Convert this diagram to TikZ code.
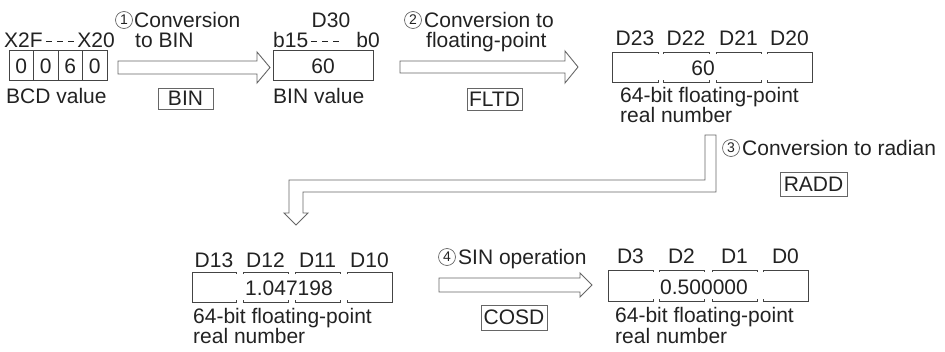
\documentclass[tikz,border=0pt]{standalone}
\usepackage{fontspec}
\setmainfont{Liberation Sans}
\usetikzlibrary{calc}
\definecolor{ink}{HTML}{222222}
\definecolor{edge}{HTML}{444444}
\definecolor{soft}{HTML}{666666}
\begin{document}
\begin{tikzpicture}[x=1pt,y=-1pt,
  txt/.style={font=\fontsize{21}{24}\selectfont, inner sep=0pt, text=ink},
  bw/.style={txt, anchor=base west},
  be/.style={txt, anchor=base east},
  bc/.style={txt, anchor=base},
  circnum/.style={circle, draw=soft, line width=0.7pt, minimum size=17pt, inner sep=0pt, text=ink, font=\fontsize{14}{14}\selectfont},
  opbox/.style={draw=soft, line width=0.8pt, inner sep=0pt, txt},
  reg/.style={draw=edge, line width=1pt},
  hollow/.style={draw=soft, fill=white, line width=0.9pt, line join=miter},
  dashln/.style={draw=ink, line width=0.9pt}
]
\useasboundingbox (0,0) rectangle (945,351);

% ---------- BCD value ----------
\node[bw] (x2f) at (4,47) {X2F};
\node[be] (x20) at (115,47) {X20};
\foreach \s in {3,14,25}
  \draw[dashln] ($(x2f.base east)+(\s,-6)$) -- ($(x2f.base east)+(\s+6,-6)$);
\draw[reg] (9,50) rectangle (107,80);
\foreach \xx in {33.5,58,82.5} \draw[reg] (\xx,50) -- (\xx,80);
\node[bc] (c1) at (21.25,73) {0};
\node[bc] (c2) at (45.75,73) {0};
\node[bc] (c3) at (70.25,73) {6};
\node[bc] (c4) at (94.75,73) {0};
\node[bw] (bcdv) at (6,103) {BCD value};

% ---------- step 1 ----------
\node[circnum] (n1) at (124,20) {1};
\node[bw] (conv1) at (134,27) {Conversion};
\node[bw] (tobin) at (135,47) {to BIN};
\draw[hollow] (118,61) -- (257,61) -- (257,52) -- (270,67.5) -- (257,83) -- (257,74) -- (118,74) -- cycle;
\node[opbox, minimum width=55pt, minimum height=21pt] (bin) at (185.5,98.5) {BIN};

% ---------- D30 ----------
\node[bc] (d30) at (331,27) {D30};
\node[bw] (b15) at (273,47) {b15};
\node[be] (b0) at (380,47) {b0};
\foreach \s in {3,14,25}
  \draw[dashln] ($(b15.base east)+(\s,-6)$) -- ($(b15.base east)+(\s+6,-6)$);
\draw[reg] (273,50) rectangle (373,80);
\node[bc] (v60) at (323,73) {60};
\node[bw] (binv) at (273,103) {BIN value};

% ---------- step 2 ----------
\node[circnum] (n2) at (413,20) {2};
\node[bw] (conv2) at (424,27) {Conversion to};
\node[bw] (flp) at (426,47) {floating-point};
\draw[hollow] (400,61) -- (565,61) -- (565,51) -- (578,67) -- (565,83) -- (565,73) -- (400,73) -- cycle;
\node[opbox, minimum width=55pt, minimum height=22pt] (fltd) at (494.5,99) {FLTD};

% ---------- D23..D20 ----------
\foreach \a/\b/\t in {612/658/D23,663/709/D22,716/761/D21,767/812/D20} {
  \draw[reg] (\a,54) -- (\a,52) -- (\b,52) -- (\b,54);
  \draw[reg] (\a,80) -- (\a,82) -- (\b,82) -- (\b,80);
  \node[bc] (l\t) at ({(\a+\b)/2},45) {\t};
}
\draw[reg] (612,52) -- (612,82);
\draw[reg] (812,52) -- (812,82);
\node[be] (f60) at (715,75) {60};
\node[bw] (fp1) at (620,102) {64-bit floating-point};
\node[bw] (rn1) at (620,122) {real number};

% ---------- step 3 (elbow) ----------
\draw[hollow] (705,135) -- (705,180) -- (289,180) -- (289,213) -- (284,213) -- (296,225)
  -- (308,213) -- (303,213) -- (303,192) -- (716,192) -- (716,135) -- cycle;
\node[circnum] (n3) at (731,148) {3};
\node[bw] (conv3) at (742,155) {Conversion to radian};
\node[opbox, minimum width=67pt, minimum height=24pt] (radd) at (813.5,184) {RADD};

% ---------- D13..D10 ----------
\foreach \a/\b/\t in {192/236/D13,243/288/D12,295/340/D11,347/392/D10} {
  \draw[reg] (\a,274) -- (\a,272) -- (\b,272) -- (\b,274);
  \draw[reg] (\a,300) -- (\a,302) -- (\b,302) -- (\b,300);
  \node[bc] (l\t) at ({(\a+\b)/2},267) {\t};
}
\draw[reg] (192,272) -- (192,302);
\draw[reg] (392,272) -- (392,302);
\node[bw] (rad) at (245,295) {1.047198};
\node[bw] (fp2) at (193,323) {64-bit floating-point};
\node[bw] (rn2) at (193,343) {real number};

% ---------- step 4 ----------
\node[circnum] (n4) at (447,257) {4};
\node[bw] (sinop) at (458,264) {SIN operation};
\draw[hollow] (439,278) -- (580,278) -- (580,273) -- (592,285) -- (580,297) -- (580,292) -- (439,292) -- cycle;
\node[opbox, minimum width=66pt, minimum height=25pt] (cosd) at (514,317.5) {COSD};

% ---------- D3..D0 ----------
\foreach \a/\b/\t in {608/653/D3,659/704/D2,712/757/D1,763/808/D0} {
  \draw[reg] (\a,272) -- (\a,270) -- (\b,270) -- (\b,272);
  \draw[reg] (\a,299) -- (\a,301) -- (\b,301) -- (\b,299);
  \node[bc] (l\t) at ({(\a+\b)/2},263) {\t};
}
\draw[reg] (608,270) -- (608,301);
\draw[reg] (808,270) -- (808,301);
\node[bw] (res) at (660,294) {0.500000};
\node[bw] (fp3) at (615,322) {64-bit floating-point};
\node[bw] (rn3) at (615,343) {real number};
\end{tikzpicture}
\end{document}
